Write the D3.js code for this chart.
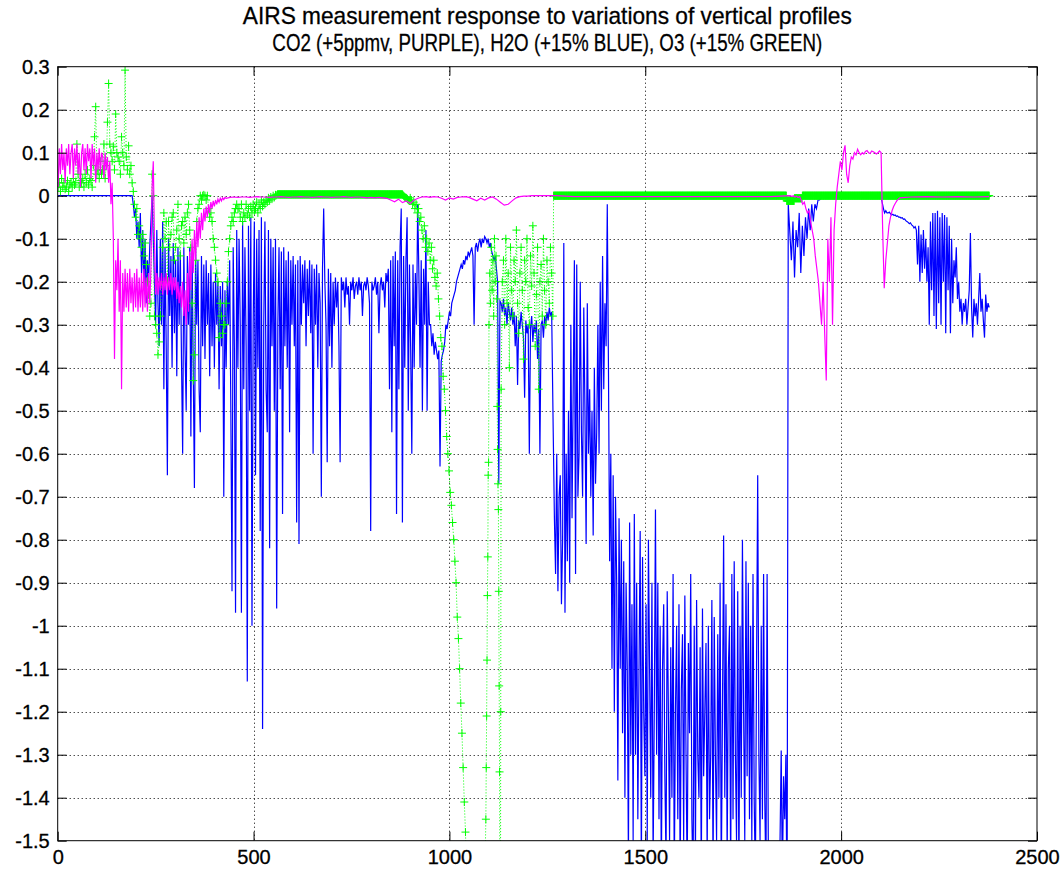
<!DOCTYPE html>
<html>
<head>
<meta charset="utf-8">
<script src="https://cdn.jsdelivr.net/npm/d3@7"></script>
<style>
  html, body { margin: 0; padding: 0; background: #fff; }
  svg { display: block; font-family: "Liberation Sans", Arial, Helvetica, sans-serif; }
</style>
</head>
<body>
<svg id="chart" width="1062" height="871"></svg>
<script>
/* global d3 */

// ---- text and ticks ----
var titleLines = [
  'AIRS measurement response to variations of vertical profiles',
  'CO2 (+5ppmv, PURPLE), H2O (+15% BLUE), O3 (+15% GREEN)'
];
var xTicks = [0, 500, 1000, 1500, 2000, 2500];
var yTicks = [0.3, 0.2, 0.1, 0, -0.1, -0.2, -0.3, -0.4, -0.5, -0.6, -0.7, -0.8,
  -0.9, -1, -1.1, -1.2, -1.3, -1.4, -1.5];

// ---- H2O (+15%), blue : values, by channel block ----
// channels 1..181, every 20
var h2oLow = [0, 0, 0, 0, 0, 0, 0, 0, 0, 0];
// channels 190..1261, every 3
var h2oA = [
  0, -0.02, -0.05, -0.03, -0.1, -0.06, -0.12, -0.04, -0.18, -0.08,
  -0.22, -0.1, -0.25, -0.15, -0.2, -0.12, -0.06, 0, -0.1, -0.2,
  -0.3, -0.08, -0.25, -0.35,
  -0.1, -0.3, -0.06, -0.45, -0.12, -0.35, -0.65, -0.1, -0.28, -0.14,
  -0.4, -0.11, -0.32, -0.15, -0.42, -0.12, -0.3, -0.13, -0.38, -0.6,
  -0.12, -0.35, -0.5, -0.14, -0.3, -0.12, -0.56, -0.13, -0.4, -0.68,
  -0.12, -0.3, -0.15, -0.45, -0.55, -0.14, -0.35, -0.16, -0.38, -0.15,
  -0.3, -0.18, -0.42, -0.16, -0.35, -0.2, -0.4, -0.18, -0.3, -0.2,
  -0.45, -0.21, -0.35, -0.2, -0.7, -0.22, -0.4, -0.2, -0.3, -0.15,
  -0.5, -0.92, -0.12, -0.35,
  -0.97, -0.08, -0.4, -0.1, -0.3, -0.97, -0.06, -0.45, -0.12, -0.35,
  -1.13, -0.07, -0.5, -0.05, -1.0, -0.3, -0.06, -0.65, -0.1, -0.4,
  -0.08, -0.78, -0.05, -1.24, -0.3, -0.06, -0.45, -0.55, -0.08, -0.82,
  -0.1, -0.35, -0.12, -0.5, -0.1, -0.96, -0.3, -0.12, -0.45, -0.13,
  -0.74, -0.12, -0.35, -0.15, -0.4, -0.13, -0.55, -0.15, -0.3, -0.14,
  -0.35, -0.16, -0.76, -0.15, -0.81, -0.14,
  -0.3, -0.16, -0.25, -0.15, -0.35, -0.17, -0.28, -0.15, -0.32, -0.16,
  -0.6, -0.17, -0.3, -0.16, -0.4, -0.18, -0.25, -0.7, -0.17, -0.03,
  -0.2, -0.3, -0.62, -0.17, -0.35, -0.18, -0.4, -0.2, -0.3, -0.19,
  -0.26, -0.2, -0.35, -0.62,
  -0.19, -0.22, -0.2, -0.26, -0.19, -0.23, -0.21, -0.3, -0.2, -0.22,
  -0.19, -0.24, -0.21, -0.2, -0.23, -0.19, -0.22, -0.2, -0.28, -0.21,
  -0.2, -0.22, -0.19, -0.21, -0.25, -0.78, -0.2, -0.22, -0.21, -0.19,
  -0.23, -0.2, -0.32, -0.21, -0.19, -0.22, -0.2, -0.26, -0.18, -0.2,
  -0.17, -0.45, -0.15, -0.55, -0.14, -0.35, -0.13, -0.74, -0.15, -0.45,
  -0.12, -0.03, -0.76, -0.14, -0.4, -0.15, -0.05, -0.5, -0.16, -0.35,
  -0.6, -0.16, -0.4, -0.18, -0.3, -0.02, -0.18, -0.4, -0.15, -0.5,
  -0.17, -0.3, -0.08, -0.5, -0.2, -0.3,
  -0.3, -0.35, -0.32, -0.37, -0.34, -0.36, -0.38, -0.36, -0.63, -0.385,
  -0.37, -0.36, -0.34, -0.3, -0.31, -0.29, -0.27, -0.28, -0.25, -0.24,
  -0.23, -0.22, -0.2, -0.19, -0.18, -0.17, -0.16, -0.17, -0.15, -0.16,
  -0.14, -0.15, -0.13, -0.14,
  -0.13, -0.12, -0.14, -0.3, -0.12, -0.11, -0.13, -0.11, -0.1, -0.12,
  -0.1, -0.11, -0.095, -0.1, -0.11, -0.1, -0.12, -0.11, -0.13, -0.14,
  -0.15, -0.14, -0.17, -0.2, -0.67, -0.245,
  -0.25, -0.27, -0.24, -0.28, -0.26, -0.3, -0.25, -0.27, -0.29, -0.26,
  -0.3, -0.27, -0.35, -0.28, -0.44, -0.29, -0.31, -0.27, -0.3, -0.33,
  -0.47, -0.29, -0.32, -0.3, -0.6, -0.31, -0.28, -0.34, -0.3, -0.32,
  -0.29, -0.38, -0.31, -0.6, -0.3, -0.29, -0.33, -0.28, -0.3, -0.27,
  -0.29, -0.26, -0.28, -0.27
];
// channels 1265..1865, every 3
var h2oB = [
  -0.55, -0.75, -0.88, -0.6, -0.92, -0.7, -0.65, -0.95, -0.8, -0.11,
  -0.97, -0.6, -0.85, -0.5, -0.9, -0.3, -0.75, -0.45, -0.15, -0.88,
  -0.16, -0.7, -0.6, -0.2, -0.55, -0.7, -0.26, -0.5, -0.81, -0.25,
  -0.6, -0.45, -0.7, -0.5, -0.79, -0.4, -0.67, -0.55, -0.3, -0.6,
  -0.2, -0.5, -0.14, -0.45, -0.25, -0.35, -0.02, -0.4, -0.85, -0.6,
  -1.1, -0.65, -1.2, -0.7, -0.9, -1.36, -0.75, -1.1, -0.8, -1.25,
  -0.85, -1.4, -0.9, -1.1, -1.55, -0.76, -1.3, -0.95, -1.5, -0.74,
  -1.3, -0.9, -1.45, -1.1, -0.78, -1.6, -0.84, -1.2, -1.35, -0.95,
  -1.5, -0.8, -1.1, -1.4, -0.9, -1.55, -1.2, -0.73, -1.3, -0.9,
  -1.45, -1.0, -1.6, -1.1, -0.95, -1.35, -1.55, -0.92, -1.2, -1.5,
  -1.05, -1.4, -0.88, -1.6, -1.2, -1.0, -1.45, -0.95, -1.6, -1.15,
  -1.02, -1.5, -0.93, -1.3, -1.6, -1.04, -1.25, -0.88, -1.45, -1.6,
  -1.0, -1.55, -0.94, -1.3, -1.4, -1.05, -1.6, -0.96, -1.35, -1.2,
  -1.04, -1.55, -1.0, -1.45, -1.3, -0.94, -1.6, -0.98, -1.3, -1.5,
  -1.02, -1.4, -0.9, -1.6, -1.2, -0.79, -1.4, -0.95, -1.55, -1.1,
  -1.0, -1.6, -0.88, -1.45, -0.85, -1.3, -1.5, -0.92, -1.6, -1.0,
  -1.4, -0.8, -1.2, -1.5, -0.85, -1.35, -0.9, -1.45, -1.0, -1.5,
  -0.88, -1.4, -1.6, -1.1, -0.65, -1.3, -1.5, -1.0, -1.45, -0.88,
  -1.4, -1.6, -0.88, -1.5, -1.65, -1.7, -1.7, -1.65, -1.6, -1.7,
  -1.6, -1.7, -1.65, -1.5, -1.29, -1.6, -1.35, -1.45, -1.3, -1.7,
  -0.02
];
// channels 1873..1945, every 4
var h2oC = [
  -0.15, -0.06, -0.19, -0.08, -0.12, -0.04, -0.18, -0.07, -0.14, -0.05,
  -0.1, -0.03, -0.08, -0.02, -0.06, -0.02, -0.03, -0.01, -0.01
];
// channels 1950..2102, every 8
var h2oD = [
  -0.003, -0.002, -0.004, -0.002, -0.003, -0.002, -0.003, -0.004, -0.002, -0.003,
  -0.002, -0.003, -0.002, -0.004, -0.003, -0.002, -0.003, -0.002, -0.003, -0.003
];
// channels 2108..2378, every 3
var h2oE = [
  -0.03, -0.04, -0.035, -0.04, -0.04, -0.038, -0.042, -0.045, -0.043, -0.046,
  -0.045, -0.048, -0.047, -0.05, -0.05, -0.052, -0.051, -0.055, -0.054, -0.058,
  -0.06, -0.062, -0.065, -0.063, -0.068, -0.07, -0.075, -0.072, -0.08, -0.16,
  -0.07, -0.2, -0.09, -0.18, -0.08, -0.17, -0.1, -0.2, -0.12, -0.3,
  -0.06, -0.22, -0.04, -0.28, -0.04, -0.31, -0.035, -0.25, -0.05, -0.3,
  -0.04, -0.2, -0.045, -0.32, -0.05, -0.22, -0.07, -0.32, -0.1, -0.25,
  -0.15, -0.19, -0.12, -0.24, -0.2, -0.27, -0.24, -0.3, -0.25, -0.27,
  -0.24, -0.3, -0.26, -0.22, -0.087, -0.26, -0.33, -0.24, -0.28, -0.25,
  -0.3, -0.24, -0.18, -0.27, -0.24, -0.29, -0.33, -0.23, -0.27, -0.25,
  -0.26
];

// ---- CO2 (+5ppmv), magenta ----
// channels 1..430, every 3
var co2A = [
  0.02, 0.11, 0.05, 0.12, 0.06, 0.1, 0.03, 0.11, 0.07, 0.12,
  0.05, 0.1, 0.12, 0.04, 0.11, 0.07, 0.12, 0.05, 0.1, 0.02,
  0.1, 0.12, 0.06, 0.11, 0.05, 0.12, 0.08, 0.11, 0.04, 0.12,
  0.07, 0.11, 0.03, 0.1, 0.06, 0.11, 0.05, 0.1, 0.09, 0.04,
  0.1, 0.06, 0.09, 0.03, 0.08, -0.02, 0.03, -0.1, -0.38, -0.15,
  -0.22, -0.1, -0.27, -0.15, -0.45, -0.18, -0.27, -0.17, -0.26, -0.18,
  -0.27, -0.17, -0.25, -0.19, -0.27, -0.18, -0.26, -0.17, -0.27, -0.19,
  -0.26, -0.18, -0.27, -0.17, -0.26, -0.19, -0.27, -0.18, -0.25, -0.17,
  0.02, 0.08, -0.1, -0.23, -0.18, -0.23, -0.19, -0.22, -0.18, -0.23,
  -0.19, -0.22, -0.18, -0.23, -0.19, -0.22, -0.18, -0.23, -0.19, -0.22,
  -0.19, -0.24, -0.2, -0.25, -0.21, -0.26, -0.2, -0.28, -0.22, -0.3,
  -0.18, -0.27, -0.13, -0.22, -0.1, -0.18, -0.08, -0.15, -0.06, -0.12,
  -0.05, -0.1, -0.04, -0.08, -0.03, -0.06, -0.025, -0.05, -0.02, -0.04,
  -0.015, -0.03, -0.012, -0.025, -0.01, -0.02, -0.008, -0.015, -0.006, -0.012,
  -0.005, -0.009, -0.004, -0.006
];
// channels 440..1270, every 10
var co2B = [
  -0.004, -0.003, -0.004, -0.003, -0.003, -0.004, -0.003, -0.002, -0.003, -0.003,
  -0.004, -0.003, -0.003, -0.002, -0.003, -0.004, -0.003, -0.003, -0.002, -0.003,
  -0.003, -0.004, -0.003, -0.002, -0.003, -0.003, -0.004, -0.003, -0.003, -0.002,
  -0.003, -0.004, -0.003, -0.003, -0.004, -0.005, -0.004, -0.005, -0.004, -0.005,
  -0.006, -0.01, -0.014, -0.008, -0.016, -0.012, -0.018, -0.01, -0.006, -0.003,
  -0.002, -0.004, -0.002, -0.003, -0.006, -0.01, -0.005, -0.008, -0.004, -0.003,
  -0.002, -0.004, -0.008, -0.012, -0.006, -0.01, -0.005, -0.003, -0.008, -0.015,
  -0.022, -0.02, -0.012, -0.005, -0.002, -0.001, -0.001, 0, 0, 0,
  0, 0, 0, 0
];
// channels 1320..1820, every 50
var co2C = [-0.002, -0.002, -0.002, -0.002, -0.002, -0.002, -0.002, -0.002, -0.002, -0.002, -0.002];
// channels 1870..2150, every 4
var co2D = [
  0, -0.002, 0, -0.003, -0.001, -0.004, -0.002, -0.01, -0.02, -0.015,
  -0.03, -0.04, -0.035, -0.06, -0.08, -0.1, -0.14, -0.17, -0.2, -0.25,
  -0.3, -0.2, -0.32, -0.43, -0.1, -0.2, -0.05, -0.3, -0.08, -0.02,
  0.02, 0.05, 0.08, 0.06, 0.1, 0.117, 0.05, 0.03, 0.07, 0.09,
  0.085, 0.1, 0.095, 0.108, 0.1, 0.095, 0.1, 0.097, 0.103, 0.105,
  0.1, 0.098, 0.104, 0.102, 0.1, 0.097, 0.1, 0.104, 0.1, -0.08,
  -0.215, -0.15, -0.11, -0.07, -0.05, -0.035, -0.025, -0.018, -0.012, -0.008,
  -0.005
];
// channels 2178..2378, every 40
var co2E = [-0.003, -0.002, -0.003, -0.002, -0.003, -0.002];

// ---- O3 (+15%), green with + markers ----
// channels 1..268, every 3
var o3A = [
  0.02, 0.03, 0.01, 0.04, 0.02, 0.03, 0.015, 0.02, 0.035, 0.01,
  0.025, 0.03, 0.02, 0.04, 0.025, 0.03, 0.12, 0.05, 0.02, 0.035,
  0.03, 0.04, 0.02, 0.05, 0.03, 0.06, 0.025, 0.04, 0.035, 0.02,
  0.07, 0.137, 0.207, 0.05, 0.06, 0.04, 0.08, 0.05, 0.06, 0.12,
  0.04, 0.07, 0.171, 0.261, 0.12, 0.1, 0.08, 0.115, 0.06, 0.19,
  0.1, 0.09, 0.08, 0.05, 0.137, 0.1, 0.07, 0.292, 0.09, 0.06,
  0.116, 0.05, 0.07, 0.03, 0.01, -0.02, -0.05, -0.03, -0.09, -0.07,
  -0.1, -0.12, -0.09, -0.14, -0.11, -0.16, -0.2, -0.23, -0.28, -0.25,
  0.05, 0, -0.28, -0.3, -0.32, -0.37, -0.34, -0.28, -0.2, -0.12
];
// channels 271..460, every 3
var o3B = [
  -0.04, -0.1, -0.06, -0.2, -0.06, -0.12, -0.09, -0.05, -0.04, -0.15,
  -0.12, -0.08, -0.02, -0.1, -0.14, -0.07, -0.06, -0.11, -0.05, -0.09,
  -0.04, -0.02, -0.08, -0.12, -0.25, -0.43, -0.37, -0.15, -0.06, -0.03,
  -0.02, 0, -0.01, 0, 0.002, 0, -0.01, 0, -0.03, -0.05,
  -0.04, -0.06, -0.1, -0.12, -0.15, -0.18, -0.2, -0.33, -0.25, -0.28,
  -0.32, -0.3, -0.3, -0.25, -0.2, -0.13, -0.1, -0.07, -0.05, -0.06,
  -0.04, -0.03, -0.02, -0.03
];
// channels 463..559, every 3
var o3C = [
  -0.03, -0.05, -0.02, -0.06, -0.04, -0.05, -0.02, -0.045, -0.03, -0.05,
  -0.025, -0.04, -0.02, -0.035, -0.03, -0.015, -0.04, -0.02, -0.03, -0.01,
  -0.025, -0.015, -0.02, -0.01, -0.015, -0.005, -0.012, -0.003, -0.008, 0,
  -0.004, 0.002, 0.001
];
// channels 881..899, every 2
var o3D = [0.002, 0, -0.002, -0.004, -0.005, -0.006, -0.008, -0.01, -0.01, -0.012];
// [channel, value] for the two ozone dives and the scatter after them
var o3E = [
  [900, -0.005], [903, -0.01], [906, -0.02], [909, -0.015], [912, -0.03], [915, -0.02],
  [918, -0.04], [921, -0.03], [924, -0.06], [927, -0.05], [930, -0.08], [933, -0.1],
  [936, -0.07], [939, -0.12], [942, -0.1], [945, -0.13], [948, -0.11], [951, -0.15],
  [954, -0.12], [957, -0.17], [960, -0.15], [963, -0.19], [966, -0.21], [969, -0.18],
  [972, -0.24], [975, -0.28], [978, -0.33], [981, -0.35], [984, -0.42], [987, -0.45],
  [990, -0.5], [993, -0.56], [996, -0.6], [999, -0.64], [1002, -0.69], [1005, -0.72],
  [1008, -0.76], [1011, -0.8], [1014, -0.85], [1017, -0.9], [1020, -0.98], [1023, -1.03],
  [1026, -1.1], [1029, -1.18], [1032, -1.25], [1035, -1.33], [1038, -1.41], [1041, -1.48],
  [1044, -1.6], [1055, -1.9], [1070, -2.1], [1085, -1.9], [1093, -1.45], [1094, -1.33],
  [1095, -1.21], [1096, -1.08], [1097, -0.93], [1098, -0.84], [1099, -0.65], [1100, -0.62],
  [1101, -0.3], [1103, -0.18], [1105, -0.25], [1107, -0.12], [1109, -0.22], [1111, -0.15],
  [1113, -0.28], [1115, -0.1], [1117, -0.2], [1119, -0.14], [1121, -0.24], [1122, -0.49],
  [1123, -0.59], [1124, -0.67], [1125, -0.73], [1126, -0.92], [1127, -1.14], [1128, -1.34],
  [1129, -1.7], [1130, -2.0], [1131, -1.2], [1132, -0.45], [1135, -0.2], [1138, -0.15],
  [1141, -0.3], [1144, -0.1], [1147, -0.25], [1150, -0.18], [1153, -0.4], [1156, -0.12],
  [1159, -0.22], [1162, -0.28], [1165, -0.15], [1168, -0.2], [1171, -0.08], [1174, -0.25],
  [1177, -0.32], [1180, -0.18], [1183, -0.12], [1186, -0.22], [1189, -0.38], [1192, -0.15],
  [1195, -0.2], [1198, -0.1], [1201, -0.26], [1204, -0.3], [1207, -0.14], [1210, -0.21],
  [1213, -0.07], [1216, -0.18], [1219, -0.35], [1222, -0.23], [1225, -0.12], [1228, -0.45],
  [1231, -0.2], [1234, -0.16], [1237, -0.28], [1240, -0.1], [1243, -0.22], [1246, -0.3],
  [1249, -0.15], [1252, -0.2], [1255, -0.25], [1258, -0.12], [1261, -0.18], [1264, -0.28]
];
// [first channel, last channel, value] where the O3 response reads flat
var o3Flat = [
  [561, 880, 0.003],
  [1266, 1860, 0],
  [1861, 1880, -0.012],
  [1881, 1900, -0.006],
  [1901, 2378, 0]
];


function stepSeries(start, step, vals) {
  return vals.map(function (v, i) { return [start + i * step, v]; });
}

function flatSeries(runs) {
  var out = [];
  runs.forEach(function (r) {
    for (var c = r[0]; c <= r[1]; c++) {
      out.push([c, r[2]]);
    }
  });
  return out;
}

var h2o = [].concat(
  stepSeries(1, 20, h2oLow), stepSeries(190, 3, h2oA), stepSeries(1265, 3, h2oB),
  stepSeries(1873, 4, h2oC), stepSeries(1950, 8, h2oD), stepSeries(2108, 3, h2oE));

var co2 = [].concat(
  stepSeries(1, 3, co2A), stepSeries(440, 10, co2B), stepSeries(1320, 50, co2C),
  stepSeries(1870, 4, co2D), stepSeries(2178, 40, co2E));

var o3 = [].concat(
  stepSeries(1, 3, o3A), stepSeries(271, 3, o3B), stepSeries(463, 3, o3C),
  stepSeries(881, 2, o3D), o3E, flatSeries(o3Flat))
  .sort(function (a, b) { return a[0] - b[0]; });


// ---- layout ----
var box = { left: 57.7, right: 1037, top: 66.7, bottom: 840.7 };
var tickLen = 9;

var svg = d3.select('#chart');

var x = d3.scaleLinear().domain([0, 2500]).range([box.left, box.right]);
var y = d3.scaleLinear().domain([-1.5, 0.3]).range([box.bottom, box.top]);

function fmt(d) { return String(+d.toFixed(1)); }

svg.append('rect')
  .attr('width', 1062).attr('height', 871)
  .attr('fill', '#fff');

// title
svg.selectAll('text.title')
  .data(titleLines)
  .enter()
  .append('text')
  .attr('class', 'title')
  .attr('x', (box.left + box.right) / 2)
  .attr('y', function (d, i) { return 24 + i * 27; })
  .attr('text-anchor', 'middle')
  .attr('textLength', function (d, i) { return i === 0 ? 609 : 550; })
  .attr('lengthAdjust', 'spacingAndGlyphs')
  .attr('fill', '#000')
  .attr('stroke', '#000')
  .attr('stroke-width', 0.3)
  .style('font-size', '24px')
  .text(function (d) { return d; });

// dotted grid
var grid = svg.append('g').attr('class', 'grid')
  .attr('stroke', '#000').attr('stroke-width', 1).attr('stroke-dasharray', '1,3');

grid.selectAll('line.gx')
  .data(xTicks.slice(1, -1))
  .enter()
  .append('line')
  .attr('x1', function (d) { return Math.round(x(d)) + 0.5; })
  .attr('x2', function (d) { return Math.round(x(d)) + 0.5; })
  .attr('y1', box.top).attr('y2', box.bottom);

grid.selectAll('line.gy')
  .data(yTicks.slice(1, -1))
  .enter()
  .append('line')
  .attr('y1', function (d) { return Math.round(y(d)) + 0.5; })
  .attr('y2', function (d) { return Math.round(y(d)) + 0.5; })
  .attr('x1', box.left).attr('x2', box.right);

// data, clipped to the axes box
svg.append('clipPath').attr('id', 'plotClip')
  .append('rect')
  .attr('x', box.left).attr('y', box.top)
  .attr('width', box.right - box.left).attr('height', box.bottom - box.top);

var plot = svg.append('g').attr('clip-path', 'url(#plotClip)');

var line = d3.line()
  .x(function (d) { return x(d[0]); })
  .y(function (d) { return y(d[1]); });

plot.append('path')
  .datum(h2o)
  .attr('class', 'h2o')
  .attr('fill', 'none')
  .attr('stroke', '#0000ff')
  .attr('stroke-width', 1.2)
  .attr('d', line);

plot.append('path')
  .datum(o3)
  .attr('class', 'o3-line')
  .attr('fill', 'none')
  .attr('stroke', '#00ff00')
  .attr('stroke-width', 1)
  .attr('stroke-dasharray', '1,2')
  .attr('d', line);

// + markers, one per O3 channel
var mk = 4;
var plus = o3.map(function (d) {
  var px = x(d[0]), py = y(d[1]);
  return 'M' + (px - mk) + ',' + py + 'h' + (2 * mk) +
    'M' + px + ',' + (py - mk) + 'v' + (2 * mk);
}).join('');

plot.append('path')
  .attr('class', 'o3-marks')
  .attr('fill', 'none')
  .attr('stroke', '#00ff00')
  .attr('stroke-width', 1)
  .attr('d', plus);

plot.append('path')
  .datum(co2)
  .attr('class', 'co2')
  .attr('fill', 'none')
  .attr('stroke', '#ff00ff')
  .attr('stroke-width', 1.2)
  .attr('d', line);

// axes: inward ticks on all four sides
var axes = svg.append('g').attr('class', 'axes');

function styleAxis(g) {
  g.select('.domain').remove();
  g.selectAll('.tick line').attr('stroke', '#000');
  g.selectAll('.tick text')
    .attr('fill', '#000')
    .attr('stroke', '#000')
    .attr('stroke-width', 0.3)
    .style('font-size', '20px')
    .style('font-family', '"Liberation Sans", Arial, Helvetica, sans-serif');
}

axes.append('g')
  .attr('transform', 'translate(0,' + box.bottom + ')')
  .call(d3.axisBottom(x).tickValues(xTicks).tickFormat(fmt)
    .tickSizeInner(-tickLen).tickSizeOuter(0).tickPadding(9))
  .call(styleAxis);

axes.append('g')
  .attr('transform', 'translate(0,' + box.top + ')')
  .call(d3.axisTop(x).tickValues(xTicks).tickFormat('')
    .tickSizeInner(-tickLen).tickSizeOuter(0))
  .call(styleAxis);

axes.append('g')
  .attr('transform', 'translate(' + box.left + ',0)')
  .call(d3.axisLeft(y).tickValues(yTicks).tickFormat(fmt)
    .tickSizeInner(-tickLen).tickSizeOuter(0).tickPadding(8))
  .call(styleAxis);

axes.append('g')
  .attr('transform', 'translate(' + box.right + ',0)')
  .call(d3.axisRight(y).tickValues(yTicks).tickFormat('')
    .tickSizeInner(-tickLen).tickSizeOuter(0))
  .call(styleAxis);

axes.append('rect')
  .attr('x', box.left).attr('y', box.top)
  .attr('width', box.right - box.left).attr('height', box.bottom - box.top)
  .attr('fill', 'none')
  .attr('stroke', '#000')
  .attr('stroke-width', 1);
</script>
</body>
</html>
